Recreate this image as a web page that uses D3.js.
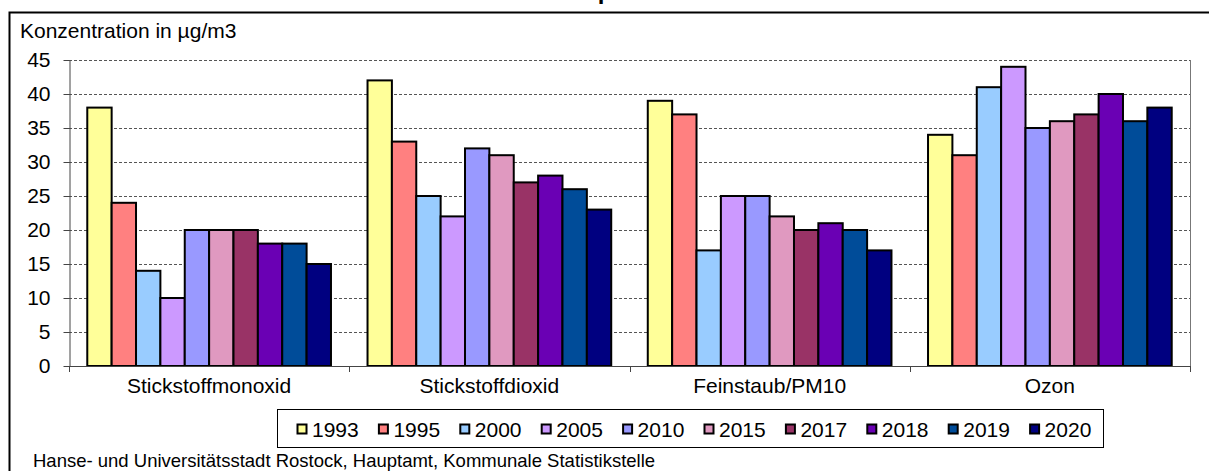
<!DOCTYPE html>
<html>
<head>
<meta charset="utf-8">
<script src="https://cdn.jsdelivr.net/npm/d3@7"></script>
<style>
  html, body { margin: 0; padding: 0; background: #fff; }
  svg { display: block; font-family: Arial, "Liberation Sans", sans-serif; }
</style>
</head>
<body>
<svg id="chart" width="1209" height="471"></svg>
<script>
// Pollutant categories and measurement years
const categories = ["Stickstoffmonoxid", "Stickstoffdioxid", "Feinstaub/PM10", "Ozon"];
const years = ["1993", "1995", "2000", "2005", "2010", "2015", "2017", "2018", "2019", "2020"];

// Annual mean concentration (µg/m3) per pollutant, one array per year
const v1993 = [38, 42, 39, 34];
const v1995 = [24, 33, 37, 31];
const v2000 = [14, 25, 17, 41];
const v2005 = [10, 22, 25, 44];
const v2010 = [20, 32, 25, 35];
const v2015 = [20, 31, 22, 36];
const v2017 = [20, 27, 20, 37];
const v2018 = [18, 28, 21, 40];
const v2019 = [18, 26, 20, 36];
const v2020 = [15, 23, 17, 38];
const seriesValues = [v1993, v1995, v2000, v2005, v2010, v2015, v2017, v2018, v2019, v2020];

const yTicks = [0, 5, 10, 15, 20, 25, 30, 35, 40, 45];
const colors = ["#FFFF99", "#FF8080", "#99CCFF", "#CC99FF", "#9999FF",
                "#E099C0", "#993366", "#6A00B4", "#004C99", "#000080"];

const svg = d3.select("#chart");

// Chart title (runs above the visible frame)
const title = svg.append("text")
  .attr("y", -1)
  .attr("font-size", 24)
  .attr("font-weight", "bold")
  .text("Luftschadstoffkomponenten");
{
  const node = title.node();
  const pIdx = node.textContent.indexOf("p");
  const pStart = node.getStartPositionOfChar(pIdx).x;
  const pW = node.getExtentOfChar(pIdx).width;
  title.attr("x", 605 - pStart - pW / 2);
}

// Outer chart frame
svg.append("path")
  .attr("d", "M9.5,471 L9.5,12.5 L1209,12.5")
  .attr("fill", "none").attr("stroke", "#000").attr("stroke-width", 2);

const plotLeft = 69, plotRight = 1190, plotTop = 60, plotBottom = 366;

const x0 = d3.scaleBand().domain(categories).range([plotLeft, plotRight]).paddingInner(0).paddingOuter(0);
// gap between groups equals 1.5 bar widths
const x1 = d3.scaleBand().domain(years)
  .range([0, x0.bandwidth()])
  .paddingInner(0)
  .paddingOuter(0.75);
const y = d3.scaleLinear().domain([0, 45]).range([plotBottom, plotTop]);

// Gridlines
svg.append("g")
  .selectAll("line")
  .data(yTicks.filter(t => t > 0))
  .join("line")
  .attr("x1", plotLeft).attr("x2", plotRight)
  .attr("y1", d => Math.round(y(d)) + 0.5).attr("y2", d => Math.round(y(d)) + 0.5)
  .attr("stroke", "#555").attr("stroke-width", 1)
  .attr("stroke-dasharray", "3,2");

// Right plot edge
svg.append("line")
  .attr("x1", plotRight + 0.5).attr("x2", plotRight + 0.5)
  .attr("y1", plotTop).attr("y2", plotBottom + 6)
  .attr("stroke", "#777").attr("stroke-width", 1);

// Bars
const groups = svg.append("g").selectAll("g")
  .data(categories)
  .join("g")
  .attr("transform", d => `translate(${x0(d)},0)`);

groups.selectAll("rect")
  .data((d, ci) => years.map((yr, si) => ({ yr, si, v: seriesValues[si][ci] })))
  .join("rect")
  .attr("x", d => x1(d.yr))
  .attr("y", d => y(d.v))
  .attr("width", x1.bandwidth())
  .attr("height", d => y(0) - y(d.v))
  .attr("fill", d => colors[d.si])
  .attr("stroke", "#000")
  .attr("stroke-width", 2);

// Y axis
const yAxis = d3.axisLeft(y).tickValues(yTicks).tickSize(6).tickSizeOuter(0).tickPadding(13);
const yg = svg.append("g").attr("transform", `translate(${plotLeft + 0.5},0)`).call(yAxis);
yg.select(".domain").attr("stroke", "#444");
yg.selectAll(".tick line").attr("stroke", "#444");
yg.selectAll(".tick text")
  .attr("font-size", 21).attr("fill", "#000")
  .attr("font-family", "Arial, 'Liberation Sans', sans-serif");

// X axis with tick marks at category boundaries
svg.append("line")
  .attr("x1", plotLeft).attr("x2", plotRight)
  .attr("y1", plotBottom + 0.5).attr("y2", plotBottom + 0.5)
  .attr("stroke", "#444").attr("stroke-width", 1);
const boundaries = categories.map(c => x0(c)).concat([plotRight]);
svg.append("g").selectAll("line")
  .data(boundaries)
  .join("line")
  .attr("x1", d => Math.round(d) + 0.5).attr("x2", d => Math.round(d) + 0.5)
  .attr("y1", plotBottom).attr("y2", plotBottom + 6)
  .attr("stroke", "#444");
svg.append("g").selectAll("text")
  .data(categories)
  .join("text")
  .attr("x", d => x0(d) + x0.bandwidth() / 2)
  .attr("y", 393)
  .attr("text-anchor", "middle")
  .attr("font-size", 21)
  .text(d => d);

// Y axis title
svg.append("text")
  .attr("x", 20).attr("y", 38)
  .attr("font-size", 21)
  .text("Konzentration in µg/m3");

// Legend
svg.append("rect")
  .attr("x", 277.5).attr("y", 409.5)
  .attr("width", 826).attr("height", 38)
  .attr("fill", "#fff").attr("stroke", "#000").attr("stroke-width", 1);
const leg = svg.append("g").selectAll("g")
  .data(years)
  .join("g")
  .attr("transform", (d, i) => `translate(${297 + i * 81.4},0)`);
leg.append("rect")
  .attr("x", 0.5).attr("y", 424.5)
  .attr("width", 9).attr("height", 9)
  .attr("fill", (d, i) => colors[i])
  .attr("stroke", "#000").attr("stroke-width", 2);
leg.append("text")
  .attr("x", 15).attr("y", 437)
  .attr("font-size", 21)
  .text(d => d);

// Source note
svg.append("text")
  .attr("x", 33).attr("y", 467)
  .attr("font-size", 18.5)
  .text("Hanse- und Universitätsstadt Rostock, Hauptamt, Kommunale Statistikstelle");
</script>
</body>
</html>
